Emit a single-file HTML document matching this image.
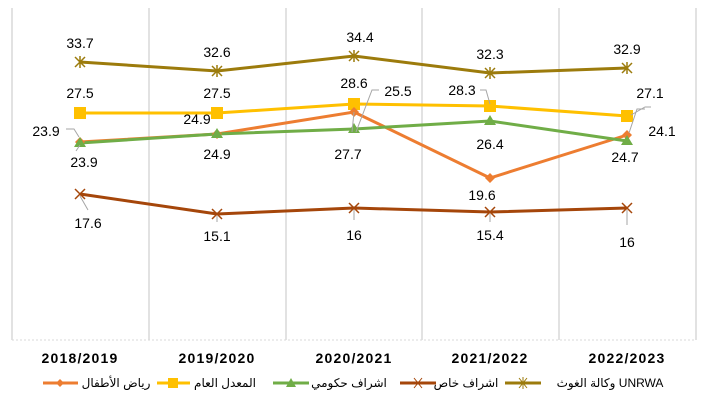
<!DOCTYPE html><html><head><meta charset="utf-8"><style>body{margin:0;background:#fff}svg{display:block}</style></head><body>
<svg width="706" height="410" xmlns="http://www.w3.org/2000/svg" font-family="Liberation Sans, sans-serif">
<g stroke="#d9d9d9" stroke-width="1.5">
<line x1="12" y1="8" x2="12" y2="340"/><line x1="149" y1="8" x2="149" y2="340"/><line x1="286" y1="8" x2="286" y2="340"/><line x1="422" y1="8" x2="422" y2="340"/><line x1="559" y1="8" x2="559" y2="340"/><line x1="696" y1="8" x2="696" y2="340"/>
</g>
<line x1="12" y1="340" x2="696" y2="340" stroke="#d9d9d9" stroke-dasharray="2,2"/>
<g fill="none" stroke-width="3">
<polyline stroke="#9c7b0c" points="80,62 217,71 354,56 490,73 627,68"/>
<polyline stroke="#ffc000" points="80,113 217,113 354,104 490,106 627,116"/>
<polyline stroke="#ed7d31" points="80,142 217,134 354,112 490,178 627,135"/>
<polyline stroke="#70ad47" points="80,143 217,134 354,129 490,121 627,141"/>
<polyline stroke="#a5460a" points="80,194 217,214 354,208 490,212 627,208"/>
</g>
<g stroke="#9c7b0c" stroke-width="1.5">
<path d="M75,57l10,10M85,57l-10,10M80,56v12M212,66l10,10M222,66l-10,10M217,65v12M349,51l10,10M359,51l-10,10M354,50v12M485,68l10,10M495,68l-10,10M490,67v12M622,63l10,10M632,63l-10,10M627,62v12"/>
</g>
<g fill="#ffc000"><rect x="74" y="107" width="12" height="12"/><rect x="211" y="107" width="12" height="12"/><rect x="348" y="98" width="12" height="12"/><rect x="484" y="100" width="12" height="12"/><rect x="621" y="110" width="12" height="12"/></g>
<g fill="#ed7d31"><path d="M80,137l5,5-5,5-5-5zM217,129l5,5-5,5-5-5zM354,107l5,5-5,5-5-5zM490,173l5,5-5,5-5-5zM627,130l5,5-5,5-5-5z"/></g>
<g fill="#70ad47"><path d="M80,137l6,10h-12zM217,128l6,10h-12zM354,123l6,10h-12zM490,115l6,10h-12zM627,135l6,10h-12z"/></g>
<g stroke="#a5460a" stroke-width="1.5"><path d="M75,189l10,10M85,189l-10,10M212,209l10,10M222,209l-10,10M349,203l10,10M359,203l-10,10M485,207l10,10M495,207l-10,10M622,203l10,10M632,203l-10,10"/></g>
<g stroke="#a6a6a6" fill="none" stroke-width="1">
<path d="M66,129h8l5,8M80,145l-4,6M80,196l8,14M354,112l-2,20M356,132l16,-42h7M490,104l-4,-14h-6M631,115l14,-8h6M629,133l8,-24h8M217,216v6M354,210v10M490,214v8M627,210v15"/>
</g>
<g font-size="14" fill="#000" text-anchor="middle">
<text x="80" y="48">33.7</text><text x="217" y="57">32.6</text><text x="360" y="42">34.4</text><text x="490" y="59">32.3</text><text x="627" y="54">32.9</text>
<text x="80" y="98">27.5</text><text x="217" y="98">27.5</text><text x="354" y="88">28.6</text><text x="462" y="95">28.3</text><text x="650" y="98">27.1</text>
<text x="46" y="136">23.9</text><text x="197" y="124">24.9</text><text x="398" y="96">25.5</text><text x="662" y="136">24.1</text>
<text x="84" y="167">23.9</text><text x="217" y="159">24.9</text><text x="348" y="159">27.7</text><text x="490" y="149">26.4</text><text x="625" y="162">24.7</text>
<text x="482" y="200">19.6</text>
<text x="88" y="228">17.6</text><text x="217" y="241">15.1</text><text x="354" y="240">16</text><text x="490" y="240">15.4</text><text x="627" y="247">16</text>
</g>
<g font-size="14" font-weight="bold" fill="#000" text-anchor="middle" letter-spacing="1.2">
<text x="80" y="363">2018/2019</text><text x="217" y="363">2019/2020</text><text x="354" y="363">2020/2021</text><text x="490" y="363">2021/2022</text><text x="627" y="363">2022/2023</text>
</g>
<g font-family="Liberation Sans, DejaVu Sans, sans-serif" font-size="12" fill="#000" text-anchor="middle">
<line x1="43" y1="383" x2="78" y2="383" stroke="#ed7d31" stroke-width="3"/><path d="M60,379l4,4-4,4-4-4z" fill="#ed7d31"/>
<text x="116" y="387">رياض الأطفال</text>
<line x1="157" y1="383" x2="190" y2="383" stroke="#ffc000" stroke-width="3"/><rect x="168" y="378" width="10" height="10" fill="#ffc000"/>
<text x="225" y="387">المعدل العام</text>
<line x1="273" y1="383" x2="309" y2="383" stroke="#70ad47" stroke-width="3"/><path d="M291,378l5,9h-10z" fill="#70ad47"/>
<text x="349" y="387">اشراف حكومي</text>
<line x1="400" y1="383" x2="436" y2="383" stroke="#a5460a" stroke-width="3"/><path d="M414,378l8,10M422,378l-8,10" stroke="#a5460a"/>
<text x="466" y="387">اشراف خاص</text>
<line x1="505" y1="383" x2="541" y2="383" stroke="#9c7b0c" stroke-width="3"/><path d="M519,378l8,10M527,378l-8,10M523,377v12" stroke="#9c7b0c"/>
<text x="610" y="387">وكالة الغوث UNRWA</text>
</g>
</svg></body></html>
